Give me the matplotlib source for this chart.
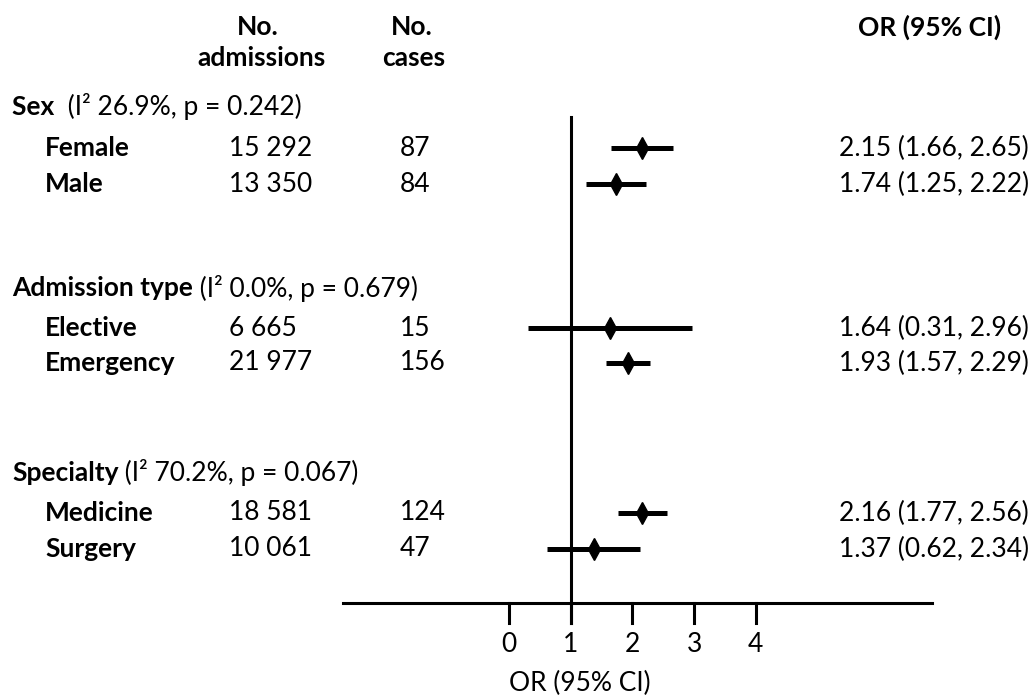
#!/usr/bin/env python3
"""
Forest plot: odds ratio by subgroup (sex, admission type, specialty)
"""

import matplotlib
matplotlib.use('Agg')
import matplotlib.pyplot as plt

# ---- data ----
group_labels = ['Sex ', 'Admission type', 'Specialty']
group_stats = [' (I² 26.9%, p = 0.242)', ' (I² 0.0%, p = 0.679)', ' (I² 70.2%, p = 0.067)']

subgroups = ['Female', 'Male', 'Elective', 'Emergency', 'Medicine', 'Surgery']
admissions = ['15 292', '13 350', '6 665', '21 977', '18 581', '10 061']
cases = [87, 84, 15, 156, 124, 47]
or_est = [2.15, 1.74, 1.64, 1.93, 2.16, 1.37]
ci_lo = [1.66, 1.25, 0.31, 1.57, 1.77, 0.62]
ci_hi = [2.65, 2.22, 2.96, 2.29, 2.56, 2.12]   # as drawn in the picture
or_labels = ['2.15 (1.66, 2.65)', '1.74 (1.25, 2.22)', '1.64 (0.31, 2.96)',
             '1.93 (1.57, 2.29)', '2.16 (1.77, 2.56)', '1.37 (0.62, 2.34)']
x_ticks = [0, 1, 2, 3, 4]

# ---- layout (pixels on a 1034x700 canvas) ----
W, H = 1034, 700
header_y = [107, 288, 473]
row_y = [148, 184, 328, 363, 513, 549]
x_zero, px_per_unit = 509, 61.7
axis_y = 603
FS = 19

plt.rcParams['font.family'] = ['Lato', 'DejaVu Sans']

fig = plt.figure(figsize=(W / 100, H / 100), dpi=100)

# text layer in pixel coordinates
tax = fig.add_axes([0, 0, 1, 1])
tax.set_xlim(0, W)
tax.set_ylim(H, 0)
tax.axis('off')

# forest layer: x in OR units, y shared with the text layer
ax = fig.add_axes([0, 0, 1, 1])
ax.set_xlim(-x_zero / px_per_unit, (W - x_zero) / px_per_unit)
ax.set_ylim(H, 0)
ax.axis('off')

# column headers
tax.text(258, 27, 'No.', fontsize=FS, fontweight='bold', ha='center', va='center')
tax.text(261, 58, 'admissions', fontsize=FS, fontweight='bold', ha='center', va='center')
tax.text(412, 27, 'No.', fontsize=FS, fontweight='bold', ha='center', va='center')
tax.text(414, 58, 'cases', fontsize=FS, fontweight='bold', ha='center', va='center')
tax.text(930, 27, 'OR (95% CI)', fontsize=FS, fontweight='bold', ha='center', va='center')

# group headers: bold name followed by heterogeneity stats
for name, stat, y in zip(group_labels, group_stats, header_y):
    t = tax.text(12, y, name, fontsize=FS, fontweight='bold', va='center')
    tax.annotate(stat, xy=(1, 0.5), xycoords=t, fontsize=FS, va='center', ha='left')

# subgroup rows
for i, y in enumerate(row_y):
    tax.text(45, y, subgroups[i], fontsize=FS, fontweight='bold', va='center')
    tax.text(229, y, admissions[i], fontsize=FS, va='center')
    tax.text(400, y, str(cases[i]), fontsize=FS, va='center')
    tax.text(1029, y, or_labels[i], fontsize=FS, va='center', ha='right')

    ax.plot([ci_lo[i], ci_hi[i]], [y, y], color='black', lw=3.6, solid_capstyle='butt')
    ax.plot(or_est[i], y, marker='d', color='black', ms=11)

# reference line at OR = 1 and x axis
ax.plot([1, 1], [117, axis_y + 20], color='black', lw=2.2)
x_left = (343 - x_zero) / px_per_unit
x_right = (932 - x_zero) / px_per_unit
ax.plot([x_left, x_right], [axis_y, axis_y], color='black', lw=2.2)
for t in x_ticks:
    ax.plot([t, t], [axis_y, axis_y + 20], color='black', lw=2.2)
    ax.text(t, 645, str(t), fontsize=FS, ha='center', va='center')
ax.text(1.15, 683, 'OR (95% CI)', fontsize=FS, ha='center', va='center')

plt.savefig('out.png', dpi=100)
plt.close()
